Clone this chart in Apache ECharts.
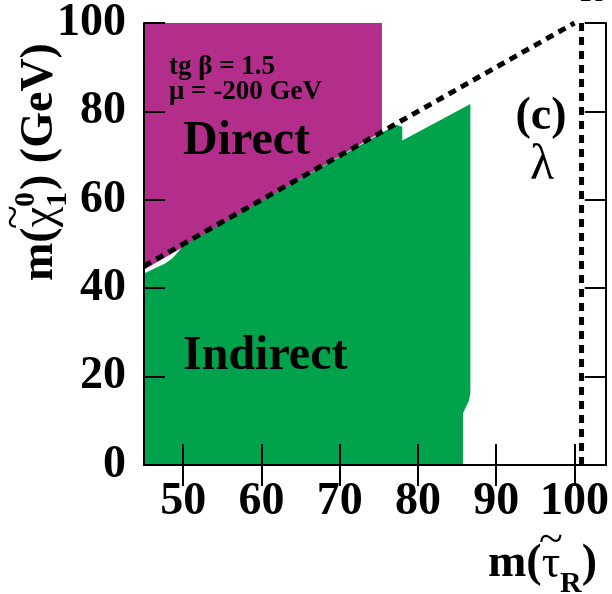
<!DOCTYPE html>
<html>
<head>
<meta charset="utf-8">
<script src="https://cdn.jsdelivr.net/npm/echarts@6/dist/echarts.min.js"></script>
<style>
  html, body { margin: 0; padding: 0; background: #fff; }
  #chart { width: 612px; height: 594px; }
</style>
</head>
<body>
<div id="chart"></div>
<script>
// Axis ranges and tick labels
const xRange = [45, 104];
const yRange = [0, 100];
const xTickValues = [50, 60, 70, 80, 90, 100];
const yTickValues = [0, 20, 40, 60, 80, 100];

// Excluded regions in the (m(stau_R), m(chi_1^0)) plane
// "Direct" search region: lower boundary along the kinematic limit, then up to the top
const directBoundary = [[45, 44.2], [75.4, 75.4], [75.4, 100]];
// "Indirect" search region: upper boundary traced left to right, then down to zero
const indirectBoundary = [
  [45, 43.3], [46.4, 44.5], [47.7, 45.6], [48.6, 46.7], [49.3, 48.1],
  [50, 49.6], [77.2, 77.0], [78, 76.5], [78, 73.4], [86.7, 81.7],
  [86.7, 16.3], [86.5, 14.5], [86.1, 13.0], [85.75, 11.7], [85.75, 0]
];
// Kinematic limit m(chi) = m(stau) and the LEP limit on m(stau_R)
const kinematicLimit = [[45, 45], [100, 100]];
const stauLimit = [[100.9, 0], [100.9, 100]];

const SERIF = '"Liberation Serif", "DejaVu Serif", serif';
const MAGENTA = '#B32D8B';
const GREEN = '#00A24B';

const chart = echarts.init(document.getElementById('chart'), null, { renderer: 'canvas' });

// Lay out a run of text pieces on one baseline using real glyph widths
const measureCtx = document.createElement('canvas').getContext('2d');
function textRun(pieces, x0, baseline) {
  const out = [];
  let x = x0;
  pieces.forEach(p => {
    const font = `${p.weight || 'bold'} ${p.size}px ${SERIF}`;
    measureCtx.font = font;
    const w = measureCtx.measureText(p.text).width;
    const px = x + (p.dx || 0);
    out.push({
      type: 'text',
      x: p.center ? px - w / 2 : px,
      y: baseline + (p.dy || 0) - 0.3375 * p.size,
      z: 100,
      style: {
        text: p.text, font: font, fill: '#000',
        textAlign: 'left', textVerticalAlign: 'middle',
        align: 'left', verticalAlign: 'middle'
      }
    });
    if (!p.hold) x = px + w;
  });
  return out;
}

// x-axis title: m(τ̃_R)
const xTitle = (function () {
  measureCtx.font = `bold 46px ${SERIF}`;
  const mw = measureCtx.measureText('m(').width;
  measureCtx.font = `normal 46px ${SERIF}`;
  const tw = measureCtx.measureText('τ').width;
  const els = textRun([
    { text: 'm(', size: 46 },
    { text: 'τ', size: 46, weight: 'normal' },
    { text: 'R', size: 30, dy: 14 },
    { text: ')', size: 46 }
  ], 488, 580);
  els.push(...textRun([{ text: '~', size: 44, weight: 'normal', center: true }], 488 + mw + tw / 2, 556));
  return els;
})();

// y-axis title: m(χ̃_1^0) (GeV), rotated to read upwards
const yTitle = (function () {
  measureCtx.font = `bold 46px ${SERIF}`;
  const mw = measureCtx.measureText('m(').width;
  measureCtx.font = `normal 46px ${SERIF}`;
  const cw = measureCtx.measureText('χ').width;
  const els = textRun([
    { text: 'm(', size: 46 },
    { text: 'χ', size: 46, weight: 'normal' },
    { text: '1', size: 30, dy: 12, hold: true },
    { text: '0', size: 30, dy: -20 },
    { text: ')', size: 46, dx: 2 },
    { text: ' (GeV)', size: 46 }
  ], 0, 0);
  els.push(...textRun([{ text: '~', size: 44, weight: 'normal', center: true }], mw + cw / 2, -26));
  return { type: 'group', x: 56, y: 281, rotation: Math.PI / 2, children: els };
})();

const plotText = [
  ...textRun([{ text: 'tg β = 1.5', size: 27 }], 169, 76),
  ...textRun([{ text: 'μ = -200 GeV', size: 27 }], 169, 101),
  ...textRun([{ text: 'Direct', size: 48 }], 183, 158),
  ...textRun([{ text: 'Indirect', size: 48 }], 183, 373),
  ...textRun([{ text: '(c)', size: 46, center: true }], 541, 133),
  ...textRun([{ text: 'λ', size: 50, weight: 'normal', center: true }], 542, 183),
  ...textRun([{ text: 'R', size: 30, center: true }], 591, 3)
];

const tickStyle = { show: true, inside: true, length: 21, lineStyle: { color: '#000', width: 2 } };
const lineStyle = { show: true, lineStyle: { color: '#000', width: 2 } };
const labelFont = { fontFamily: SERIF, fontWeight: 'bold', fontSize: 46, color: '#000' };

const option = {
  animation: false,
  backgroundColor: '#fff',
  grid: { left: 144, right: 5, top: 22, bottom: 129, containLabel: false },
  xAxis: [
    {
      type: 'value', min: xRange[0], max: xRange[1], position: 'bottom', z: 10,
      axisLine: lineStyle, splitLine: { show: false },
      axisTick: Object.assign({ customValues: xTickValues }, tickStyle),
      axisLabel: Object.assign({ customValues: xTickValues, margin: 14 }, labelFont)
    },
    {
      type: 'value', min: xRange[0], max: xRange[1], position: 'top', z: 10,
      axisLine: lineStyle, splitLine: { show: false },
      axisTick: Object.assign({ customValues: xTickValues }, tickStyle),
      axisLabel: { show: false }
    }
  ],
  yAxis: [
    {
      type: 'value', min: yRange[0], max: yRange[1], interval: 20, position: 'left', z: 10,
      axisLine: lineStyle, splitLine: { show: false },
      axisTick: Object.assign({ customValues: yTickValues }, tickStyle),
      axisLabel: Object.assign({ customValues: yTickValues, margin: 18 }, labelFont)
    },
    {
      type: 'value', min: yRange[0], max: yRange[1], interval: 20, position: 'right', z: 10,
      axisLine: lineStyle, splitLine: { show: false },
      axisTick: Object.assign({ customValues: yTickValues }, tickStyle),
      axisLabel: { show: false }
    }
  ],
  series: [
    {
      name: 'Direct', type: 'line', data: directBoundary, showSymbol: false, z: 1,
      lineStyle: { width: 0 }, areaStyle: { color: MAGENTA, opacity: 1, origin: 'end' }
    },
    {
      name: 'Indirect', type: 'line', data: indirectBoundary, showSymbol: false, z: 1,
      lineStyle: { width: 0 }, areaStyle: { color: GREEN, opacity: 1, origin: 'start' }
    },
    {
      name: 'kinematic', type: 'line', data: kinematicLimit, showSymbol: false, z: 3,
      lineStyle: { color: '#000', width: 5, type: [8, 6] }
    },
    {
      name: 'stau', type: 'line', data: stauLimit, showSymbol: false, z: 3,
      lineStyle: { color: '#000', width: 5, type: [8, 6] }
    }
  ],
  graphic: [xTitle, yTitle, ...plotText].flat()
};

chart.setOption(option);
</script>
</body>
</html>
